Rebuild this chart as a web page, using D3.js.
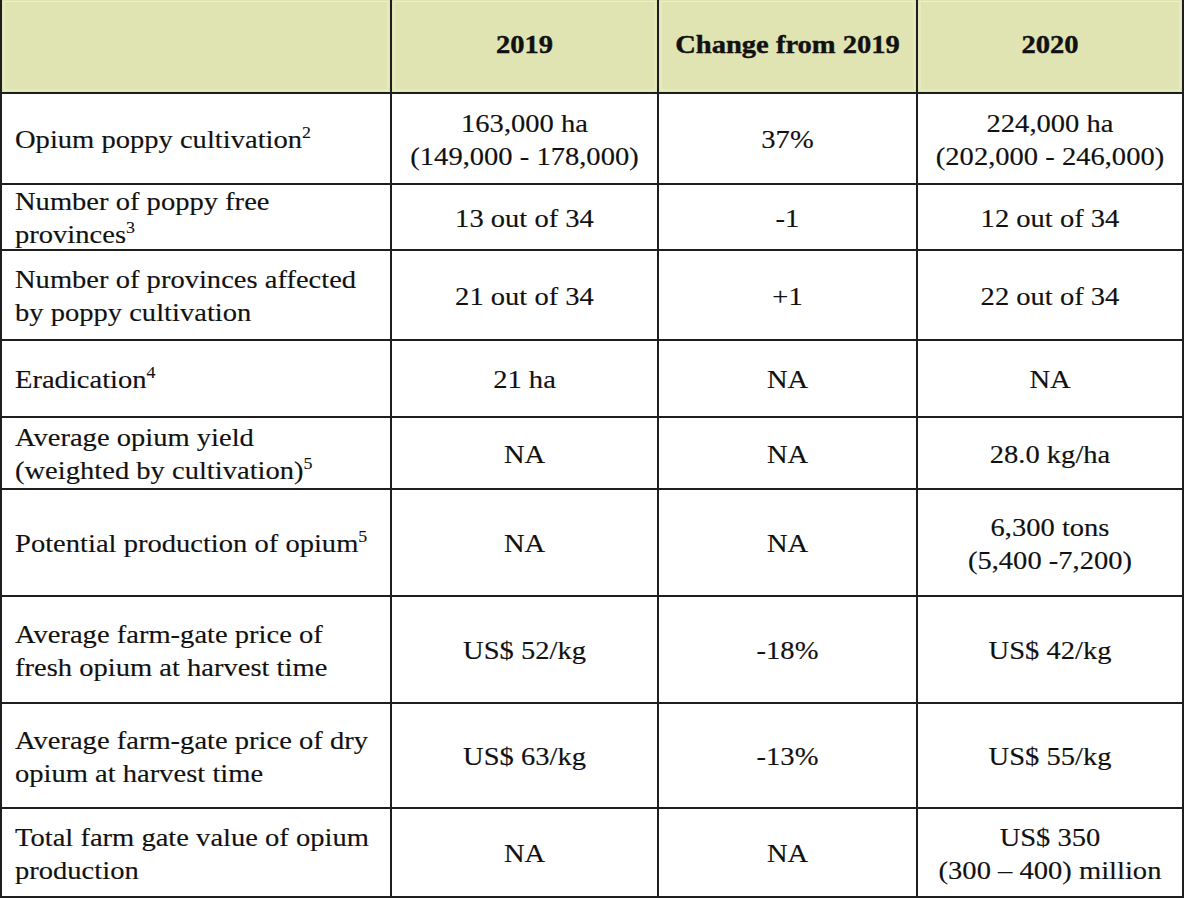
<!DOCTYPE html>
<html>
<head>
<meta charset="utf-8">
<script src="https://cdn.jsdelivr.net/npm/d3@7"></script>
<style>
  html, body { margin: 0; padding: 0; background: #ffffff; }
  svg { display: block; }
</style>
</head>
<body>
<svg id="chart" width="1187" height="900"></svg>
<script>
// ---------- data ----------
const headers = ["", "2019", "Change from 2019", "2020"];

const rowLabels = [
  ["Opium poppy cultivation^2"],
  ["Number of poppy free", "provinces^3"],
  ["Number of provinces affected", "by poppy cultivation"],
  ["Eradication^4"],
  ["Average opium yield", "(weighted by cultivation)^5"],
  ["Potential production of opium^5"],
  ["Average farm-gate price of", "fresh opium at harvest time"],
  ["Average farm-gate price of dry", "opium at harvest time"],
  ["Total farm gate value of opium", "production"]
];

const values2019 = [
  ["163,000 ha", "(149,000 - 178,000)"],
  ["13 out of 34"],
  ["21 out of 34"],
  ["21 ha"],
  ["NA"],
  ["NA"],
  ["US$ 52/kg"],
  ["US$ 63/kg"],
  ["NA"]
];

const valuesChange = [
  ["37%"],
  ["-1"],
  ["+1"],
  ["NA"],
  ["NA"],
  ["NA"],
  ["-18%"],
  ["-13%"],
  ["NA"]
];

const values2020 = [
  ["224,000 ha", "(202,000 - 246,000)"],
  ["12 out of 34"],
  ["22 out of 34"],
  ["NA"],
  ["28.0 kg/ha"],
  ["6,300 tons", "(5,400 -7,200)"],
  ["US$ 42/kg"],
  ["US$ 55/kg"],
  ["US$ 350", "(300 \u2013 400) million"]
];

// ---------- layout ----------
const colEdges = [1, 391, 658, 917, 1183];
const rowEdges = [-2, 93, 184, 250, 340, 417, 489, 596, 703, 808, 897];
const headerFill = "#dfe4b2";
const lineColor = "#1e1e1e";
const textColor = "#111111";
const fontFamily = "'Liberation Serif', 'Times New Roman', serif";
const fontSize = 25.5;
const stretch = 1.12;
const lineGap = 33;

const svg = d3.select("#chart");

const nRows = rowLabels.length + 1;
const yTop = d3.scaleOrdinal().domain(d3.range(nRows)).range(rowEdges.slice(0, nRows));
const yBot = d3.scaleOrdinal().domain(d3.range(nRows)).range(rowEdges.slice(1));
const xLeft = d3.scaleOrdinal().domain(d3.range(4)).range(colEdges.slice(0, 4));
const xRight = d3.scaleOrdinal().domain(d3.range(4)).range(colEdges.slice(1));

// header background
svg.append("rect")
  .attr("x", colEdges[0]).attr("y", rowEdges[0])
  .attr("width", colEdges[4] - colEdges[0])
  .attr("height", rowEdges[1] - rowEdges[0])
  .attr("fill", headerFill);

// faint inner highlight of header cells
d3.range(4).forEach(c => {
  svg.append("rect")
    .attr("x", xLeft(c) + 3).attr("y", 1.5)
    .attr("width", xRight(c) - xLeft(c) - 6)
    .attr("height", rowEdges[1] - 4.5)
    .attr("fill", "none")
    .attr("stroke", "#ecefcf")
    .attr("stroke-width", 1);
});

// grid lines
const grid = svg.append("g").attr("stroke", lineColor).attr("stroke-width", 2);
rowEdges.slice(1).forEach(y => {
  grid.append("line").attr("x1", colEdges[0] - 1).attr("x2", colEdges[4] + 1)
    .attr("y1", y).attr("y2", y);
});
colEdges.forEach(x => {
  grid.append("line").attr("x1", x).attr("x2", x)
    .attr("y1", rowEdges[0]).attr("y2", rowEdges[rowEdges.length - 1] + 1);
});

// text helper
function cellText(lines, col, row, align, bold, yShift) {
  const cy = (yTop(row) + yBot(row)) / 2 + 1 + (yShift || 0);
  const n = lines.length;
  lines.forEach((line, i) => {
    const base = cy - (n - 1) * lineGap / 2 + i * lineGap + 8.5;
    const x = align === "left" ? xLeft(col) + 14 : (xLeft(col) + xRight(col)) / 2;
    const t = svg.append("text")
      .attr("transform", `translate(${x},${base}) scale(${stretch},1)`)
      .attr("text-anchor", align === "left" ? "start" : "middle")
      .attr("font-family", fontFamily)
      .attr("font-size", fontSize)
      .attr("font-weight", bold ? "bold" : "normal")
      .attr("fill", textColor)
      .attr("stroke", textColor)
      .attr("stroke-width", bold ? 0.4 : 0.15);
    const parts = line.split("^");
    t.append("tspan").text(parts[0]);
    if (parts.length > 1) {
      t.append("tspan").attr("dy", -10).attr("font-size", 16).attr("stroke-width", 0.1).text(parts[1]);
    }
  });
}

// header
headers.forEach((h, c) => { if (h) cellText([h], c, 0, "middle", true, -2); });

// body
rowLabels.forEach((lines, r) => {
  cellText(lines, 0, r + 1, "left", false);
  cellText(values2019[r], 1, r + 1, "middle", false);
  cellText(valuesChange[r], 2, r + 1, "middle", false);
  cellText(values2020[r], 3, r + 1, "middle", false);
});
</script>
</body>
</html>
